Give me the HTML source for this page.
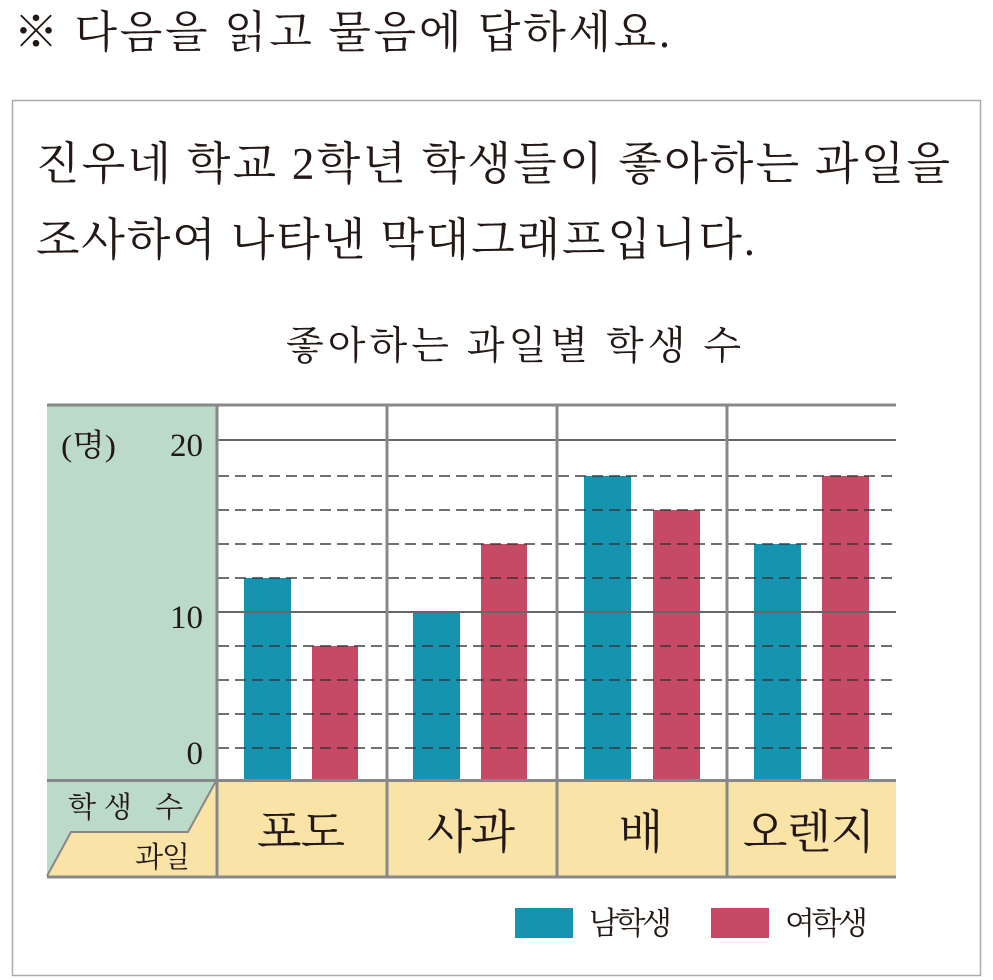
<!DOCTYPE html>
<html><head><meta charset="utf-8"><style>
html,body{margin:0;padding:0;background:#fff;}
svg{display:block;}
text{font-family:"Liberation Serif","Noto Serif CJK SC","Noto Sans CJK KR",serif;fill:#231815;}
</style></head><body>
<svg width="993" height="980" viewBox="0 0 993 980" xmlns="http://www.w3.org/2000/svg">
<text x="14" y="47" font-size="44" textLength="656" lengthAdjust="spacing">※ 다음을 읽고 물음에 답하세요.</text>
<rect x="12.5" y="100.5" width="968" height="875" fill="none" stroke="#aaa" stroke-width="1.5"/>
<text x="36" y="179" font-size="45" textLength="914" lengthAdjust="spacing">진우네 학교 2학년 학생들이 좋아하는 과일을</text>
<text x="36" y="255" font-size="45" textLength="719" lengthAdjust="spacing">조사하여 나타낸 막대그래프입니다.</text>
<text x="286" y="359" font-size="39" textLength="455" lengthAdjust="spacing">좋아하는 과일별 학생 수</text>
<rect x="47" y="404" width="169" height="376" fill="#bcdac8"/>
<rect x="216" y="780" width="680" height="97" fill="#f9e3a7"/>
<polygon points="47,780 216,780 188,832 71,832 47,876" fill="#bcdac8"/>
<polygon points="216,780 216,877 47,877 71,832 188,832" fill="#f9e3a7"/>
<polyline points="216,781 188,832 71,832 47,876" fill="none" stroke="#888" stroke-width="2"/>
<g>
<rect x="244" y="578" width="47" height="202" fill="#1693ae"/>
<rect x="312" y="646" width="46" height="134" fill="#c64966"/>
<rect x="413" y="612" width="47" height="168" fill="#1693ae"/>
<rect x="481" y="544" width="46" height="236" fill="#c64966"/>
<rect x="584" y="476" width="47" height="304" fill="#1693ae"/>
<rect x="653" y="510" width="47" height="270" fill="#c64966"/>
<rect x="754" y="544" width="47" height="236" fill="#1693ae"/>
<rect x="822" y="476" width="47" height="304" fill="#c64966"/>
</g>
<g stroke="#333" stroke-opacity="0.7" stroke-width="2" stroke-dasharray="11,6">
<line x1="218" y1="476" x2="896" y2="476"/>
<line x1="218" y1="510" x2="896" y2="510"/>
<line x1="218" y1="544" x2="896" y2="544"/>
<line x1="218" y1="578" x2="896" y2="578"/>
<line x1="218" y1="646" x2="896" y2="646"/>
<line x1="218" y1="680" x2="896" y2="680"/>
<line x1="218" y1="714" x2="896" y2="714"/>
<line x1="218" y1="748" x2="896" y2="748"/>
</g>
<g stroke="#666" stroke-width="2">
<line x1="216" y1="440" x2="896" y2="440"/>
<line x1="216" y1="612" x2="896" y2="612"/>
</g>
<g stroke="#888" stroke-width="3">
<line x1="47" y1="405" x2="896" y2="405"/>
<line x1="47" y1="780.5" x2="896" y2="780.5"/>
<line x1="47" y1="877" x2="896" y2="877"/>
<line x1="217" y1="404" x2="217" y2="878"/>
<line x1="387" y1="404" x2="387" y2="878"/>
<line x1="557" y1="404" x2="557" y2="878"/>
<line x1="727" y1="404" x2="727" y2="878"/>
</g>
<text x="61" y="456" font-size="31" textLength="55" lengthAdjust="spacingAndGlyphs">(명)</text>
<text x="203" y="456" font-size="33" text-anchor="end">20</text>
<text x="203" y="628" font-size="33" text-anchor="end">10</text>
<text x="203" y="764" font-size="33" text-anchor="end">0</text>
<text x="68" y="817" font-size="29" textLength="115" lengthAdjust="spacing">학생 수</text>
<text x="135" y="867" font-size="29" textLength="55" lengthAdjust="spacing">과일</text>
<text x="257" y="848" font-size="46" textLength="88" lengthAdjust="spacing">포도</text>
<text x="427" y="848" font-size="46" textLength="88" lengthAdjust="spacing">사과</text>
<text x="641" y="848" font-size="46" text-anchor="middle">배</text>
<text x="743" y="848" font-size="46" textLength="132" lengthAdjust="spacing">오렌지</text>
<rect x="515" y="908" width="58" height="30" fill="#1693ae"/>
<text x="589" y="934" font-size="31" textLength="83" lengthAdjust="spacing">남학생</text>
<rect x="711" y="908" width="58" height="30" fill="#c64966"/>
<text x="785" y="934" font-size="31" textLength="83" lengthAdjust="spacing">여학생</text>
</svg>
</body></html>
